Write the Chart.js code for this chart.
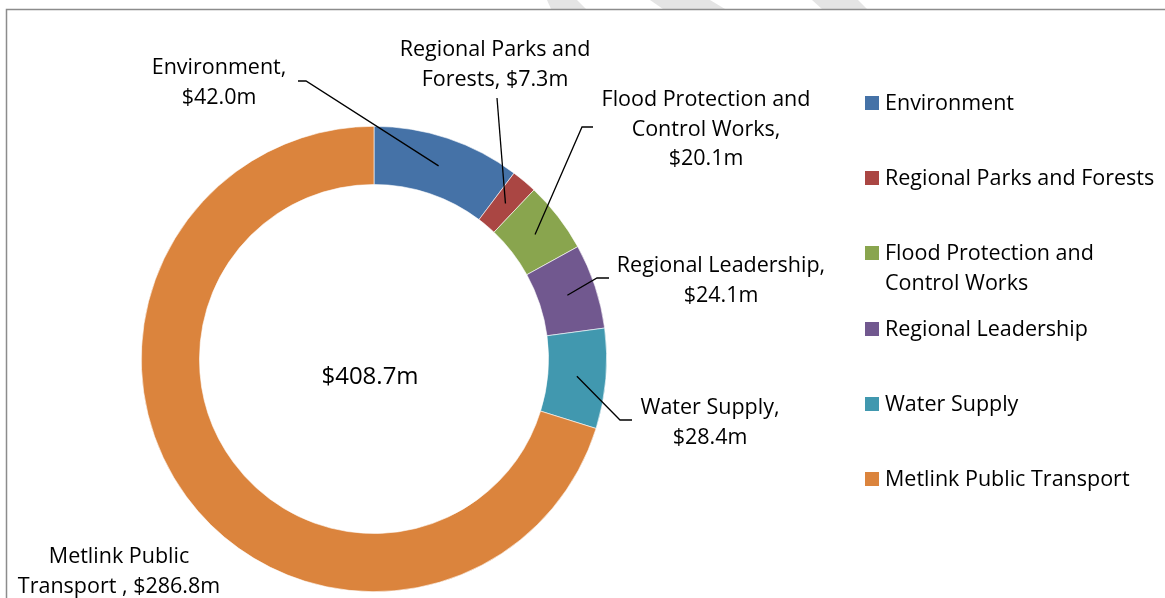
<!DOCTYPE html>
<html>
<head>
<meta charset="utf-8">
<script src="https://cdn.jsdelivr.net/npm/chart.js@4/dist/chart.umd.min.js"></script>
<style>
	body { margin: 0; background: #fff; }
	canvas { display: block; }
</style>
</head>
<body>
<canvas id="chart" width="1165" height="598"></canvas>
<script>
// budget split, clockwise from 12 o'clock
var categories = ['Environment', 'Regional Parks and Forests', 'Flood Protection and Control Works', 'Regional Leadership', 'Water Supply', 'Metlink Public Transport'];
var values = [42.0, 7.3, 20.1, 24.1, 28.4, 286.8];
var colors = ['#4572A7', '#AA4643', '#89A54E', '#71588F', '#4198AF', '#DB843D'];
// how the excel labels were broken, {v} is the value
var labelLines = [
	['Environment,', '{v}'],
	['Regional Parks and', 'Forests, {v}'],
	['Flood Protection and', 'Control Works,', '{v}'],
	['Regional Leadership,', '{v}'],
	['Water Supply,', '{v}'],
	['Metlink Public', 'Transport , {v}']
];

var FONT = '"Open Sans", Lato, sans-serif';

function money(v) {
	return '$' + v.toFixed(1) + 'm';
}

// label boxes (centre x, first line y) and leader lines
var labelPos = [
	{ x: 219, y: 68, lead: [[298, 81], [306, 81]] },
	{ x: 495, y: 50, lead: [[497, 98]] },
	{ x: 706, y: 100, lead: [[593, 127], [582, 127]] },
	{ x: 721, y: 266, lead: [[609, 278], [597, 278]] },
	{ x: 710, y: 408, lead: [[632, 420], [620, 420]] },
	{ x: 119, y: 557, lead: null }
];

var frame = {
	id: 'frame',
	beforeDraw: function (chart) {
		var ctx = chart.ctx;
		ctx.save();
		ctx.fillStyle = '#fff';
		ctx.fillRect(0, 0, chart.width, chart.height);
		// bits of the page watermark above the frame
		ctx.fillStyle = '#e4e4e4';
		var bits = [[547, 577, 586, 551], [650, 710, 725, 663], [812, 858, 867, 822]];
		for (var i = 0; i < bits.length; i++) {
			ctx.beginPath();
			ctx.moveTo(bits[i][0], 0);
			ctx.lineTo(bits[i][1], 0);
			ctx.lineTo(bits[i][2], 9);
			ctx.lineTo(bits[i][3], 9);
			ctx.closePath();
			ctx.fill();
		}
		ctx.strokeStyle = '#8c8c8c';
		ctx.lineWidth = 1.5;
		ctx.beginPath();
		ctx.moveTo(6.5, chart.height);
		ctx.lineTo(6.5, 9.5);
		ctx.lineTo(chart.width, 9.5);
		ctx.stroke();
		ctx.restore();
	}
};

var labels = {
	id: 'labels',
	afterDatasetsDraw: function (chart) {
		var ctx = chart.ctx;
		var meta = chart.getDatasetMeta(0);
		var ds = chart.data.datasets[0];
		ctx.save();
		// leader lines end at the middle of each slice
		ctx.strokeStyle = '#000';
		ctx.lineWidth = 1.3;
		for (var i = 0; i < meta.data.length; i++) {
			var lp = labelPos[i];
			if (!lp.lead) continue;
			var c = meta.data[i].getCenterPoint();
			ctx.beginPath();
			ctx.moveTo(lp.lead[0][0], lp.lead[0][1]);
			for (var k = 1; k < lp.lead.length; k++) {
				ctx.lineTo(lp.lead[k][0], lp.lead[k][1]);
			}
			ctx.lineTo(c.x, c.y);
			ctx.stroke();
		}
		ctx.fillStyle = '#000';
		ctx.font = '21.5px ' + FONT;
		ctx.textAlign = 'center';
		ctx.textBaseline = 'middle';
		for (var i = 0; i < meta.data.length; i++) {
			var lines = labelLines[i];
			for (var j = 0; j < lines.length; j++) {
				ctx.fillText(lines[j].replace('{v}', money(ds.data[i])), labelPos[i].x, labelPos[i].y + j * 29.5);
			}
		}
		// total in the hole
		var total = 0;
		for (var i = 0; i < ds.data.length; i++) total += ds.data[i];
		ctx.font = '24px ' + FONT;
		var mid = meta.data[0];
		ctx.fillText(money(total), mid.x - 4, mid.y + 18);
		ctx.restore();
	}
};

var sideLegend = {
	id: 'sideLegend',
	afterDraw: function (chart) {
		var ctx = chart.ctx;
		var ds = chart.data.datasets[0];
		var rows = [103, 178, 253, 329, 404, 479];
		ctx.save();
		ctx.font = '21.5px ' + FONT;
		ctx.textBaseline = 'middle';
		ctx.textAlign = 'left';
		for (var i = 0; i < chart.data.labels.length; i++) {
			ctx.fillStyle = ds.backgroundColor[i];
			ctx.fillRect(865, rows[i] - 7, 14, 14);
			ctx.fillStyle = '#000';
			// wrap to the right edge of the page
			var words = chart.data.labels[i].split(' ');
			var line = '';
			var y = rows[i] + 1;
			for (var w = 0; w < words.length; w++) {
				var test = line ? line + ' ' + words[w] : words[w];
				if (ctx.measureText(test).width > 278 && line) {
					ctx.fillText(line, 885, y);
					line = words[w];
					y += 30;
				} else {
					line = test;
				}
			}
			ctx.fillText(line, 885, y);
		}
		ctx.restore();
	}
};

var ctx = document.getElementById('chart').getContext('2d');
var donut = new Chart(ctx, {
	type: 'doughnut',
	data: {
		labels: categories,
		datasets: [{
			data: values,
			backgroundColor: colors,
			borderColor: '#ffffff',
			borderWidth: 0.6
		}]
	},
	options: {
		responsive: false,
		animation: false,
		devicePixelRatio: 1,
		cutout: '75%',
		layout: {
			padding: { left: 141, right: 558, top: 126, bottom: 6 }
		},
		plugins: {
			legend: { display: false },
			tooltip: { enabled: false }
		}
	},
	plugins: [frame, labels, sideLegend]
});
</script>
</body>
</html>
